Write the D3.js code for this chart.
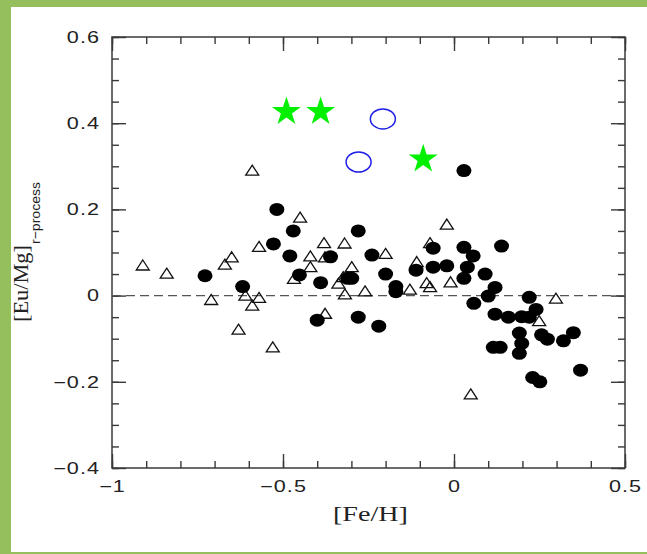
<!DOCTYPE html>
<html>
<head>
<meta charset="utf-8">
<script src="https://cdn.jsdelivr.net/npm/d3@7"></script>
<style>
  html, body { margin: 0; padding: 0; background: #ffffff; }
  svg { display: block; }
</style>
</head>
<body>
<svg id="chart" width="647" height="554"></svg>
<script>
// ---- data ----
// open triangles
const triFe = [-0.91, -0.84, -0.59, -0.45, -0.57, -0.65, -0.67, -0.71, -0.61, -0.57,
               -0.59, -0.63, -0.53, -0.468, -0.38, -0.32, -0.42, -0.42, -0.377, -0.324,
               -0.338, -0.319, -0.377, -0.20, -0.299, -0.26, -0.129, -0.109, -0.08, -0.07,
               -0.07, -0.021, -0.01, 0.298, 0.249, 0.049];
const triEu = [0.071, 0.052, 0.291, 0.182, 0.114, 0.090, 0.073, -0.009, 0.001, -0.004,
               -0.022, -0.078, -0.119, 0.040, 0.123, 0.122, 0.092, 0.067, 0.090, 0.044,
               0.029, 0.004, -0.041, 0.098, 0.067, 0.011, 0.015, 0.079, 0.030, 0.021,
               0.123, 0.166, 0.032, -0.006, -0.058, -0.228];
// filled dots
const dotFe = [-0.728, -0.618, -0.518, -0.470, -0.528, -0.480, -0.452, -0.390, -0.361, -0.280,
               -0.240, -0.311, -0.299, -0.400, -0.280, -0.220, -0.200, -0.170, -0.170, -0.111,
               -0.061, -0.061, -0.021, 0.029, 0.029, 0.056, 0.139, 0.039, 0.029, 0.091,
               0.120, 0.100, 0.058, 0.220, 0.240, 0.120, 0.159, 0.198, 0.220, 0.191,
               0.198, 0.191, 0.115, 0.135, 0.256, 0.273, 0.320, 0.349, 0.370, 0.230, 0.251];
const dotEu = [0.046, 0.021, 0.200, 0.150, 0.120, 0.092, 0.048, 0.030, 0.090, 0.150,
               0.094, 0.040, 0.040, -0.057, -0.050, -0.071, 0.050, 0.021, 0.009, 0.059,
               0.110, 0.066, 0.069, 0.290, 0.112, 0.092, 0.115, 0.066, 0.040, 0.050,
               0.019, -0.001, -0.018, -0.004, -0.032, -0.043, -0.050, -0.049, -0.050, -0.087,
               -0.111, -0.134, -0.120, -0.120, -0.091, -0.101, -0.105, -0.086, -0.173, -0.190, -0.200];
// green stars
const starFe = [-0.49, -0.39, -0.09];
const starEu = [0.43, 0.43, 0.32];
// blue open ellipses
const ringFe = [-0.208, -0.279];
const ringEu = [0.41, 0.31];

// axis ticks
const xMajor = [-1, -0.5, 0, 0.5];
const xMajorLabels = ["\u22121", "\u22120.5", "0", "0.5"];
const yMajor = [-0.4, -0.2, 0, 0.2, 0.4, 0.6];
const yMajorLabels = ["\u22120.4", "\u22120.2", "0", "0.2", "0.4", "0.6"];
const xLabel = "[Fe/H]";
const yLabelMain = "[Eu/Mg]";
const yLabelSub = "r\u2212process";

// ---- layout ----
const W = 647, H = 554;
const plotL = 112, plotR = 625, plotT = 37, plotB = 468;
const svg = d3.select("#chart");

// frame background
svg.append("rect").attr("x", 0).attr("y", 0).attr("width", W).attr("height", H).attr("fill", "#95bf5d");
svg.append("rect").attr("x", 11).attr("y", 7).attr("width", W - 11).attr("height", 545).attr("fill", "#ffffff");

const x = d3.scaleLinear().domain([-1, 0.5]).range([plotL, plotR]);
const y = d3.scaleLinear().domain([-0.4, 0.6]).range([plotB, plotT]);

const axisColor = "#3a3a3a";
const xMinor = d3.range(-1, 0.5001, 0.1).map(v => +v.toFixed(2));
const yMinor = d3.range(-0.4, 0.6001, 0.05).map(v => +v.toFixed(2));

function styleAxis(g) {
  g.select(".domain").remove();
  g.selectAll(".tick line").attr("stroke", axisColor).attr("stroke-width", 1.4);
  g.selectAll(".tick text").remove();
}

// minor ticks on all four sides
svg.append("g").attr("transform", `translate(0,${plotB})`)
  .call(d3.axisBottom(x).tickValues(xMinor).tickSizeInner(-7).tickSizeOuter(0)).call(styleAxis);
svg.append("g").attr("transform", `translate(0,${plotT})`)
  .call(d3.axisTop(x).tickValues(xMinor).tickSizeInner(-7).tickSizeOuter(0)).call(styleAxis);
svg.append("g").attr("transform", `translate(${plotL},0)`)
  .call(d3.axisLeft(y).tickValues(yMinor).tickSizeInner(-7).tickSizeOuter(0)).call(styleAxis);
svg.append("g").attr("transform", `translate(${plotR},0)`)
  .call(d3.axisRight(y).tickValues(yMinor).tickSizeInner(-7).tickSizeOuter(0)).call(styleAxis);
// major ticks
svg.append("g").attr("transform", `translate(0,${plotB})`)
  .call(d3.axisBottom(x).tickValues(xMajor).tickSizeInner(-14).tickSizeOuter(0)).call(styleAxis);
svg.append("g").attr("transform", `translate(0,${plotT})`)
  .call(d3.axisTop(x).tickValues(xMajor).tickSizeInner(-14).tickSizeOuter(0)).call(styleAxis);
svg.append("g").attr("transform", `translate(${plotL},0)`)
  .call(d3.axisLeft(y).tickValues(yMajor).tickSizeInner(-14).tickSizeOuter(0)).call(styleAxis);
svg.append("g").attr("transform", `translate(${plotR},0)`)
  .call(d3.axisRight(y).tickValues(yMajor).tickSizeInner(-14).tickSizeOuter(0)).call(styleAxis);

// plot box
svg.append("rect").attr("x", plotL).attr("y", plotT)
  .attr("width", plotR - plotL).attr("height", plotB - plotT)
  .attr("fill", "none").attr("stroke", axisColor).attr("stroke-width", 1.5);

// tick labels (wide sans face)
const sx = 1.35, ls = 0.8;
svg.append("g").selectAll("text").data(xMajor).join("text")
  .attr("transform", d => `translate(${x(d) + ls * sx / 2},492) scale(${sx},1)`)
  .attr("text-anchor", "middle")
  .attr("font-family", "'Liberation Sans', Arial, sans-serif")
  .attr("font-size", 16).attr("letter-spacing", ls).attr("fill", "#222")
  .text((d, i) => xMajorLabels[i]);
svg.append("g").selectAll("text").data(yMajor).join("text")
  .attr("transform", d => `translate(${99 + ls * sx},${y(d) + 5.8}) scale(${sx},1)`)
  .attr("text-anchor", "end")
  .attr("font-family", "'Liberation Sans', Arial, sans-serif")
  .attr("font-size", 16).attr("letter-spacing", ls).attr("fill", "#222")
  .text((d, i) => yMajorLabels[i]);

// axis titles
svg.append("text")
  .attr("x", 333).attr("y", 521)
  .attr("textLength", 75).attr("lengthAdjust", "spacingAndGlyphs")
  .attr("font-family", "'Liberation Serif', 'Times New Roman', serif")
  .attr("font-size", 21).attr("fill", "#222")
  .text(xLabel);
const yl = svg.append("g").attr("transform", "rotate(-90)");
yl.append("text")
  .attr("x", -322).attr("y", 28)
  .attr("textLength", 77).attr("lengthAdjust", "spacingAndGlyphs")
  .attr("font-family", "'Liberation Serif', 'Times New Roman', serif")
  .attr("font-size", 20).attr("fill", "#222")
  .text(yLabelMain);
yl.append("text")
  .attr("x", -244).attr("y", 40)
  .attr("textLength", 62).attr("lengthAdjust", "spacingAndGlyphs")
  .attr("font-family", "'Liberation Sans', Arial, sans-serif")
  .attr("font-size", 13).attr("fill", "#222")
  .text(yLabelSub);

// zero reference line
svg.append("line")
  .attr("x1", x(-1)).attr("x2", x(0.5)).attr("y1", y(0)).attr("y2", y(0))
  .attr("stroke", "#555").attr("stroke-width", 1.3).attr("stroke-dasharray", "9,5");

// triangles
const tri = "M0,-5L6.5,5L-6.5,5Z";
svg.append("g").selectAll("path").data(d3.range(triFe.length)).join("path")
  .attr("d", tri)
  .attr("transform", i => `translate(${x(triFe[i])},${y(triEu[i])})`)
  .attr("fill", "none").attr("stroke", "#111").attr("stroke-width", 1.3)
  .attr("stroke-linejoin", "miter");

// filled dots
svg.append("g").selectAll("ellipse").data(d3.range(dotFe.length)).join("ellipse")
  .attr("cx", i => x(dotFe[i])).attr("cy", i => y(dotEu[i]))
  .attr("rx", 7.5).attr("ry", 6.5).attr("fill", "#000");

// blue open ellipses
svg.append("g").selectAll("ellipse").data(d3.range(ringFe.length)).join("ellipse")
  .attr("cx", i => x(ringFe[i])).attr("cy", i => y(ringEu[i]))
  .attr("rx", 12.5).attr("ry", 10).attr("fill", "none")
  .attr("stroke", "#1f1fe6").attr("stroke-width", 1.5);

// green stars
const star = d3.symbol(d3.symbolStar, 260);
svg.append("g").selectAll("path").data(d3.range(starFe.length)).join("path")
  .attr("d", star)
  .attr("transform", i => `translate(${x(starFe[i])},${y(starEu[i]) + 1.4})`)
  .attr("fill", "#00f000");
</script>
</body>
</html>
